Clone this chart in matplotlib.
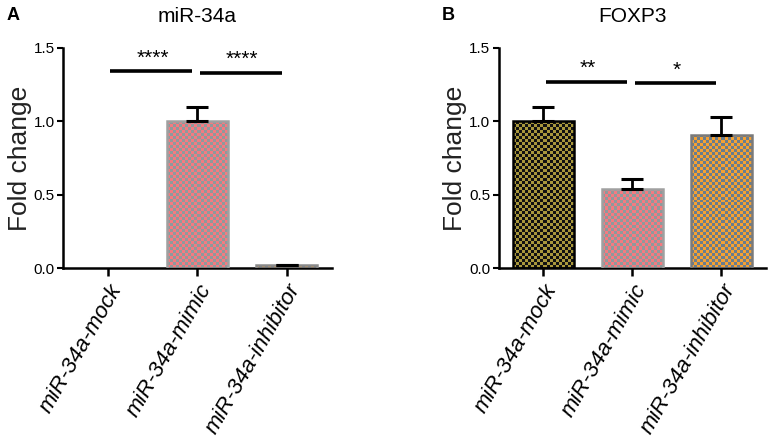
import numpy as np
import matplotlib
matplotlib.use("Agg")
import matplotlib.pyplot as plt

# data
groups = ["miR-34a-mock", "miR-34a-mimic", "miR-34a-inhibitor"]
mir_vals = [0.0, 1.0, 0.02]
mir_err = [0.0, 0.10, 0.005]
foxp3_vals = [1.0, 0.54, 0.91]
foxp3_err = [0.095, 0.07, 0.12]

mir_sig = [(0, 1, 1.34, "****"), (1, 2, 1.33, "****")]
foxp3_sig = [(0, 1, 1.27, "**"), (1, 2, 1.26, "*")]

# checker colours (light, dark) and edge colour per group
checker = [("#a8973c", "#111111"), ("#f47a80", "#8e9a9c"), ("#f5a132", "#6a7d8e")]
edges = ["#000000", "#a0a0a0", "#7a7a7a"]
mir_edges = ["none", "#a0a0a0", "#8a8a8a"]

plt.rcParams["font.family"] = ["Liberation Sans", "DejaVu Sans"]


def checker_fill(ax, bar, cols, cell=3.0):
    fig = ax.figure
    fig.canvas.draw()
    bb = bar.get_window_extent()
    if bb.height < 1:
        return
    nx = max(1, int(round(bb.width / cell)))
    ny = max(1, int(round(bb.height / cell)))
    grid = (np.add.outer(np.arange(ny), np.arange(nx)) % 2).astype(float)
    cmap = matplotlib.colors.ListedColormap([cols[0], cols[1]])
    x0, y0 = bar.get_x(), bar.get_y()
    im = ax.imshow(grid, cmap=cmap, vmin=0, vmax=1, interpolation="nearest",
                   extent=(x0, x0 + bar.get_width(), y0, y0 + bar.get_height()),
                   aspect="auto", zorder=2, origin="lower")
    im.set_clip_path(bar)


def panel(ax, vals, errs, sig, edge_cols, title, letter, letter_x, label_x):
    x = np.arange(len(groups))
    bars = ax.bar(x, vals, width=0.68, facecolor="none", edgecolor=edge_cols,
                  linewidth=1.8, zorder=3)
    keep = np.array(errs) > 0
    ax.errorbar(x[keep], np.array(vals)[keep],
                yerr=[np.zeros(keep.sum()), np.array(errs)[keep]], fmt="none",
                ecolor="black", elinewidth=2, capsize=8, capthick=2.2, zorder=4)
    ax.set_xlim(-0.5, 2.5)
    ax.set_ylim(0, 1.5)
    ax.set_yticks([0, 0.5, 1.0, 1.5])
    ax.set_yticklabels(["0.0", "0.5", "1.0", "1.5"], fontsize=11)
    ax.set_xticks(x)
    ax.set_xticklabels(groups, rotation=60, ha="right", rotation_mode="anchor",
                       fontstyle="italic", fontsize=16)
    ax.set_ylabel("Fold change", fontsize=19, color="#222222")
    ax.yaxis.set_label_coords(label_x, 0.5)
    for s in ["top", "right"]:
        ax.spines[s].set_visible(False)
    for s in ["left", "bottom"]:
        ax.spines[s].set_linewidth(1.8)
    ax.tick_params(axis="x", length=6, width=1.8, pad=3)
    ax.tick_params(axis="y", length=4, width=1.5, pad=2)
    for a, b, h, txt in sig:
        ax.plot([a + 0.03, b - 0.06], [h, h], color="black", lw=2.6,
                solid_capstyle="butt", clip_on=False)
        ax.text((a + b) / 2, h + 0.025, txt, ha="center", va="bottom", fontsize=15)
    ax.set_title(title, fontsize=15, pad=19)
    ax.figure.text(letter_x, 0.965, letter, fontsize=13, fontweight="bold",
                   va="center")
    return bars


fig = plt.figure(figsize=(7.72, 4.44), dpi=100)
ax1 = fig.add_axes([0.0816, 0.396, 0.348, 0.496])
ax2 = fig.add_axes([0.646, 0.396, 0.346, 0.496])

bars1 = panel(ax1, mir_vals, mir_err, mir_sig, mir_edges, "miR-34a", "A", 0.008, -0.115)
bars2 = panel(ax2, foxp3_vals, foxp3_err, foxp3_sig, edges, "FOXP3", "B", 0.572, -0.118)

for bar, cols in zip(bars1, checker):
    checker_fill(ax1, bar, cols)
for bar, cols in zip(bars2, checker):
    checker_fill(ax2, bar, cols)

plt.savefig("out.png", dpi=100)
